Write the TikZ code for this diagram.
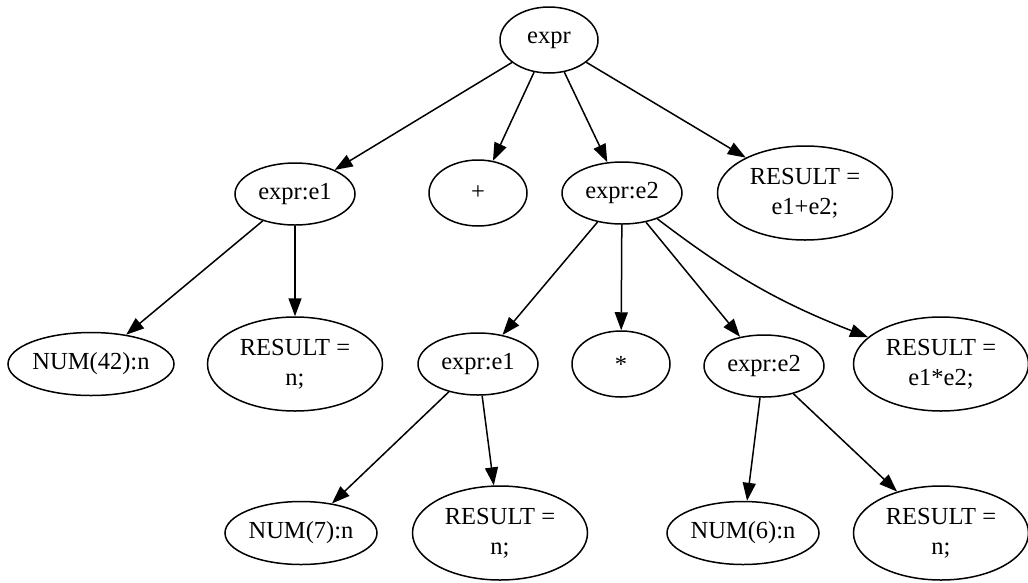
\documentclass[tikz,border=0pt]{standalone}
\usepackage{fontspec}
\setmainfont{Liberation Serif}
\usetikzlibrary{shapes.geometric,arrows.meta}
\begin{document}
\begin{tikzpicture}[x=1pt,y=-1pt,
  every node/.style={font=\fontsize{24.5pt}{30pt}\selectfont},
  nd/.style={ellipse,draw,line width=1.5pt,inner sep=0pt,align=center},
  small/.style={nd,minimum width=98pt,minimum height=66pt},
  mid/.style={nd,minimum width=120pt,minimum height=62pt},
  numb/.style={nd,minimum width=152pt,minimum height=63pt},
  res/.style={nd,minimum width=175pt,minimum height=94pt},
  edge/.style={line width=1.5pt,-{Triangle[length=18pt,width=13pt]}}]
\useasboundingbox (0,0) rectangle (1028,582);
\node[small] (expr) at (549,40) {expr};
\node[mid] (e1) at (295,194) {expr:e1};
\node[small] (plus) at (478,193) {+};
\node[mid] (e2) at (622,193) {expr:e2};
\node[res] (r1) at (805,193) {RESULT =\\e1+e2;};
\node[numb,minimum width=166pt] (n42) at (91,364) {NUM(42):n};
\node[res] (rn1) at (295,364) {RESULT =\\n;};
\node[mid] (e1b) at (478,364) {expr:e1};
\node[small] (star) at (621,364) {*};
\node[mid] (e2b) at (764,366) {expr:e2};
\node[res] (r2) at (941,364) {RESULT =\\e1*e2;};
\node[numb] (n7) at (301,533) {NUM(7):n};
\node[res] (rn2) at (500,533) {RESULT =\\n;};
\node[numb] (n6) at (743,533) {NUM(6):n};
\node[res] (rn3) at (941,533) {RESULT =\\n;};
\draw[edge] (expr) -- (e1);
\draw[edge] (expr) -- (plus);
\draw[edge] (expr) -- (e2);
\draw[edge] (expr) -- (r1);
\draw[edge] (e1) -- (n42);
\draw[edge] (e1) -- (rn1);
\draw[edge] (e2) -- (e1b);
\draw[edge] (e2) -- (star);
\draw[edge] (e2) -- (e2b);
\draw[edge] (e2) to[bend right=8] (r2);
\draw[edge] (e1b) -- (n7);
\draw[edge] (e1b) -- (rn2);
\draw[edge] (e2b) -- (n6);
\draw[edge] (e2b) -- (rn3);
\end{tikzpicture}
\end{document}
